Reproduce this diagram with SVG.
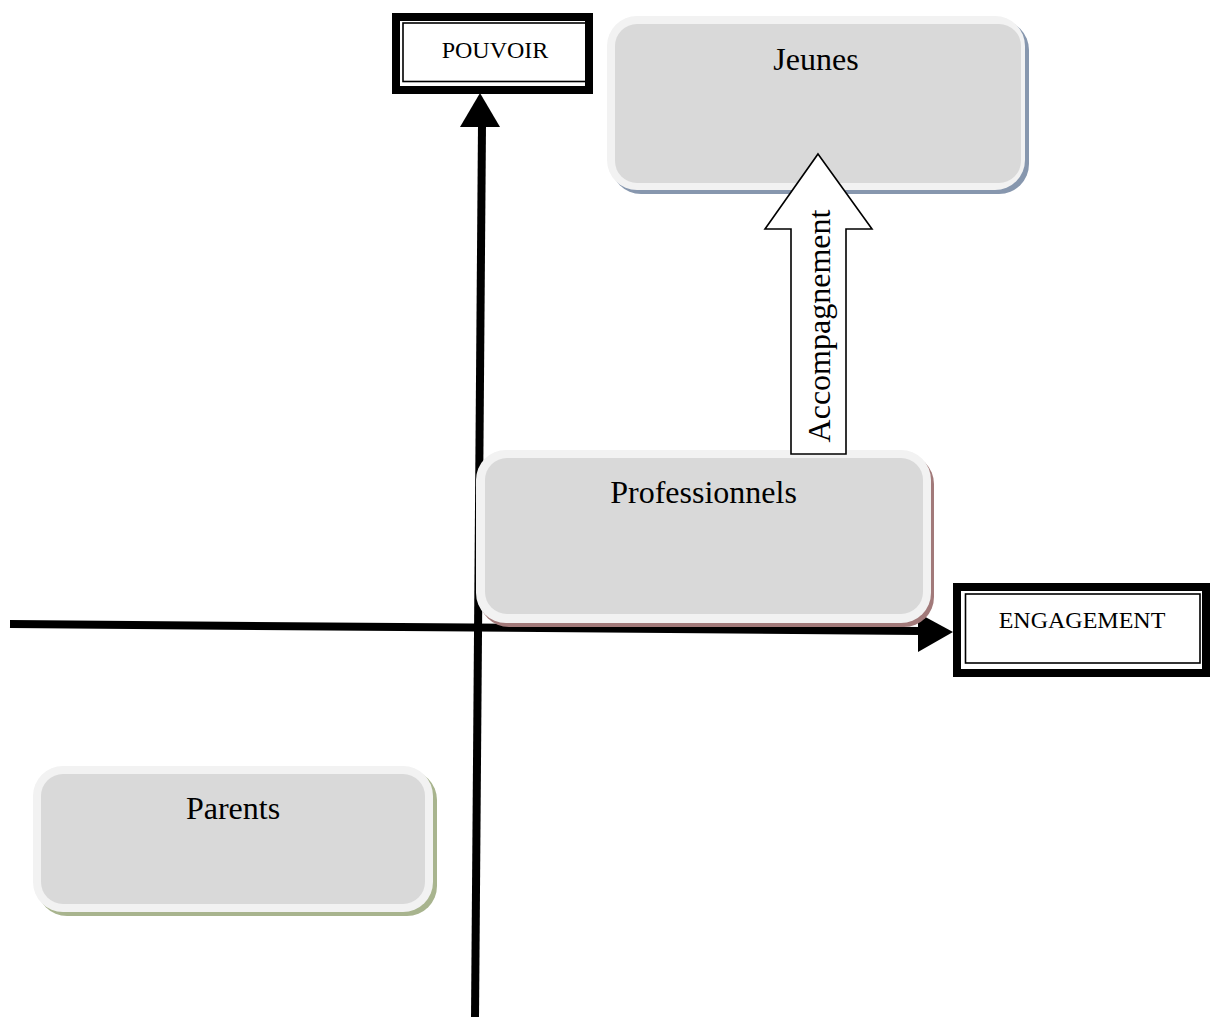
<svg xmlns="http://www.w3.org/2000/svg" width="1211" height="1017" viewBox="0 0 1211 1017">
  <style>
    .axis { stroke: #000; stroke-width: 8; fill: none; }
    .head { fill: #000; stroke: none; }
    .frame { fill: #fff; stroke: #000; stroke-width: 8; }
    .frame-inner { fill: none; stroke: #000; stroke-width: 1.6; }
    .axis-label { font-family: "Liberation Serif", "Times New Roman", serif; font-size: 24px; fill: #000; text-anchor: middle; }
    .rim { fill: #f2f2f2; }
    .face { fill: #d9d9d9; }
    .label { font-family: "Liberation Serif", "Times New Roman", serif; font-size: 32px; fill: #000; text-anchor: middle; }
    .block-arrow { fill: #fff; stroke: #000; stroke-width: 1.6; stroke-linejoin: miter; }
  </style>

  <rect width="1211" height="1017" fill="#fff"/>

  <!-- Axes -->
  <g id="axes">
    <line class="axis" x1="10" y1="624" x2="920" y2="631"/>
    <polygon class="head" points="918,613 953,632 918,652"/>
    <line class="axis" x1="475" y1="1017" x2="482" y2="125"/>
    <polygon class="head" points="460,127 480,93 500,127"/>
  </g>

  <!-- Axis labels -->
  <g id="pouvoir">
    <rect class="frame" x="396" y="17" width="193" height="73"/>
    <rect class="frame-inner" x="403" y="23" width="183" height="58.5"/>
    <text class="axis-label" x="495" y="58">POUVOIR</text>
  </g>

  <g id="engagement">
    <rect class="frame" x="957" y="587" width="249" height="86"/>
    <rect class="frame-inner" x="965.5" y="594" width="234.5" height="69"/>
    <text class="axis-label" x="1082" y="628">ENGAGEMENT</text>
  </g>

  <!-- Nodes -->
  <g id="jeunes">
    <rect x="611" y="20" width="418" height="174" rx="30" fill="#8797ae"/>
    <rect class="rim" x="607" y="16" width="418" height="174" rx="30"/>
    <rect class="face" x="615" y="24" width="406" height="159" rx="22"/>
    <text class="label" x="816" y="70">Jeunes</text>
  </g>

  <g id="professionnels">
    <rect x="479" y="454" width="455" height="173" rx="30" fill="#a27a7a"/>
    <rect class="rim" x="476" y="450" width="455" height="173" rx="30"/>
    <rect class="face" x="485" y="458" width="438" height="156" rx="22"/>
    <text class="label" x="703.5" y="503">Professionnels</text>
  </g>

  <g id="parents">
    <rect x="37" y="770" width="400" height="146" rx="30" fill="#a8b48e"/>
    <rect class="rim" x="33" y="766" width="400" height="146" rx="30"/>
    <rect class="face" x="41" y="774" width="384" height="130" rx="22"/>
    <text class="label" x="233" y="819">Parents</text>
  </g>

  <!-- Connectors -->
  <g id="connectors">
    <g id="accompagnement">
      <polygon class="block-arrow" points="818,154 872,229 846,229 846,454 791,454 791,229 765,229"/>
      <text class="label" transform="translate(830 326) rotate(-90)" x="0" y="0">Accompagnement</text>
    </g>
  </g>
</svg>
